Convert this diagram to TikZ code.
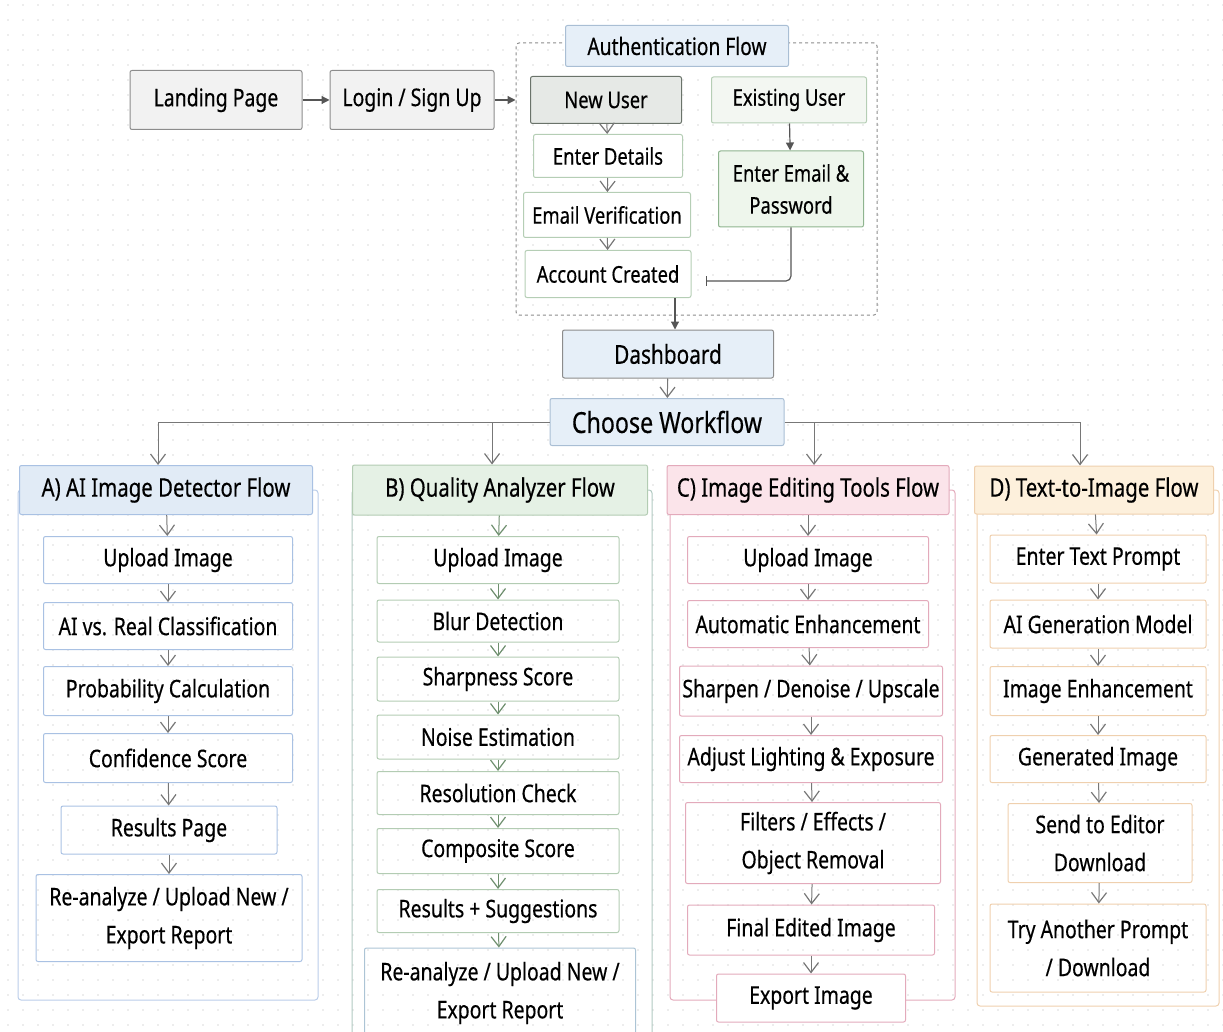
\documentclass[tikz,border=0pt]{standalone}
\usepackage{fontspec}
\setmainfont{Noto Sans}[FakeStretch=0.8,FakeBold=0.4]
\usetikzlibrary{arrows.meta}

\definecolor{dotc}{HTML}{DADADA}
\definecolor{linec}{HTML}{555555}
\definecolor{greyfill}{HTML}{F2F2F2}
\definecolor{greyedge}{HTML}{8C8C8C}
\definecolor{newfill}{HTML}{E6E9E6}
\definecolor{newedge}{HTML}{6A736A}
\definecolor{oldfill}{HTML}{F3F7F2}
\definecolor{authgreen}{HTML}{B5CEB5}
\definecolor{credfill}{HTML}{EEF6EC}
\definecolor{credge}{HTML}{8FB48F}
\definecolor{bluefill}{HTML}{E6EFF8}
\definecolor{blueedge}{HTML}{A9BED4}
\definecolor{aedge}{HTML}{A9C1E3}
\definecolor{afill}{HTML}{E1EBF6}
\definecolor{bedge}{HTML}{B3CCB3}
\definecolor{bfill}{HTML}{E5F1E5}
\definecolor{barrow}{HTML}{6E8F6E}
\definecolor{cedge}{HTML}{E3AABB}
\definecolor{cfill}{HTML}{FBE4EA}
\definecolor{dedge}{HTML}{EFD0AE}
\definecolor{dfill}{HTML}{FDF0DC}

\begin{document}
\begin{tikzpicture}[x=1pt,y=-1pt,
    box/.style={draw, rounded corners=2pt, align=center, inner sep=2pt, line width=1pt,
      font=\fontsize{24.3}{38}\selectfont},
    gbox/.style={box, fill=greyfill, draw=greyedge},
    authbox/.style={box, font=\fontsize{23}{32}\selectfont},
    stepbox/.style={authbox, fill=white, draw=authgreen},
    heads/.style={box, font=\fontsize{25.5}{30}\selectfont},
    cont/.style={draw, rounded corners=3pt, line width=1pt},
    arr/.style={color=linec, line width=1.2pt, -{Triangle[length=8pt,width=8pt]}},
    varr/.style={color=linec!80, line width=1pt, -{Straight Barb[length=10pt,width=15pt,line width=1.2pt]}},
]
\useasboundingbox (0,0) rectangle (1223,1032);
% dotted grid
\foreach \gx in {8,23,...,1223}
  \foreach \gy in {5,20,...,1032}
    \fill[dotc] (\gx,\gy) circle (0.9);

% entry
\node[gbox, minimum width=172, minimum height=59] (landing) at (216,100) {Landing Page};
\node[gbox, minimum width=164, minimum height=59] (login) at (412,100) {Login / Sign Up};

% authentication
\node[draw=greyedge, dashed, line width=1pt, rounded corners=3pt, minimum width=361, minimum height=272] (authframe) at (696.5,179) {};
\node[authbox, fill=bluefill, draw=blueedge, minimum width=223, minimum height=41, font=\fontsize{24}{30}\selectfont] (authtitle) at (677,46) {Authentication Flow};
\node[authbox, fill=newfill, draw=newedge, minimum width=151, minimum height=47] (newuser) at (606,100) {New User};
\node[authbox, fill=oldfill, draw=authgreen, minimum width=155, minimum height=46] (olduser) at (789,100) {Existing User};
\node[stepbox, minimum width=149, minimum height=43] (details) at (608,156) {Enter Details};
\node[stepbox, minimum width=167, minimum height=45] (verify) at (607,215) {Email Verification};
\node[stepbox, minimum width=166, minimum height=47] (created) at (608,274) {Account Created};
\node[authbox, fill=credfill, draw=credge, minimum width=145, minimum height=76] (creds) at (791,189) {Enter Email \&\\Password};
\coordinate (credend) at (706,281);

\node[box, fill=bluefill, draw=greyedge, minimum width=211, minimum height=48, font=\fontsize{26}{30}\selectfont] (dash) at (668,354) {Dashboard};
\node[box, fill=bluefill, draw=blueedge, minimum width=234, minimum height=47, font=\fontsize{29}{30}\selectfont] (choose) at (667,422) {Choose Workflow};

\path[arr] (landing) edge (login);
\path[arr] (login.east) edge (authframe.west |- login.east);
\path[varr] (newuser) edge (details);
\path[varr] (details) edge (verify);
\path[varr] (verify) edge (created);
\path[arr] (olduser) edge (creds);
\draw[draw=linec, line width=1.2pt, rounded corners=5pt, -{Bar[width=10pt]}] (creds.south) |- (credend);
\path[arr] ([xshift=7pt]dash.north |- created.south) edge ([xshift=7pt]dash.north);
\path[varr] (dash) edge (choose);

% A) detector
\node[cont, draw=aedge!80, minimum width=300, minimum height=510] (acont) at (168,745) {};
\node[heads, fill=afill, draw=aedge, minimum width=293, minimum height=49] (ahead) at (166,490) {A) AI Image Detector Flow};
\node[box, draw=aedge, minimum width=249, minimum height=47] (a1) at (168,560) {Upload Image};
\node[box, draw=aedge, minimum width=249, minimum height=47] (a2) at (168,626) {AI vs. Real Classification};
\node[box, draw=aedge, minimum width=249, minimum height=49] (a3) at (168,691) {Probability Calculation};
\node[box, draw=aedge, minimum width=249, minimum height=49] (a4) at (168,758) {Confidence Score};
\node[box, draw=aedge, minimum width=216, minimum height=48] (a5) at (169,830) {Results Page};
\node[box, draw=aedge, minimum width=266, minimum height=87] (a6) at (169,918) {Re-analyze / Upload New /\\Export Report};

% B) quality
\node[cont, draw=bedge!70!aedge, minimum width=300, minimum height=550] (bcont) at (502,765) {};
\node[heads, fill=bfill, draw=bedge, minimum width=295, minimum height=50] (bhead) at (500,490) {B) Quality Analyzer Flow};
\node[box, draw=bedge, minimum width=242, minimum height=47] (b1) at (498,560) {Upload Image};
\node[box, draw=bedge, minimum width=242, minimum height=42] (b2) at (498,621) {Blur Detection};
\node[box, draw=bedge, minimum width=242, minimum height=44] (b3) at (498,679) {Sharpness Score};
\node[box, draw=bedge, minimum width=242, minimum height=44] (b4) at (498,737) {Noise Estimation};
\node[box, draw=bedge, minimum width=242, minimum height=43] (b5) at (498,793) {Resolution Check};
\node[box, draw=bedge, minimum width=242, minimum height=45] (b6) at (498,851) {Composite Score};
\node[box, draw=bedge, minimum width=242, minimum height=43] (b7) at (498,911) {Results + Suggestions};
\node[box, draw=aedge!70!bedge, minimum width=271, minimum height=90] (b8) at (500,993) {Re-analyze / Upload New /\\Export Report};

% C) editing
\node[cont, draw=cedge, minimum width=285, minimum height=510] (ccont) at (812.5,745) {};
\node[heads, fill=cfill, draw=cedge, minimum width=282, minimum height=49] (chead) at (808,490) {C) Image Editing Tools Flow};
\node[box, draw=cedge, minimum width=241, minimum height=47] (c1) at (808,560) {Upload Image};
\node[box, draw=cedge, minimum width=241, minimum height=47] (c2) at (808,624) {Automatic Enhancement};
\node[box, draw=cedge, minimum width=263, minimum height=50] (c3) at (811,691) {Sharpen / Denoise / Upscale};
\node[box, draw=cedge, minimum width=263, minimum height=47] (c4) at (811,759) {Adjust Lighting \& Exposure};
\node[box, draw=cedge, minimum width=255, minimum height=81] (c5) at (813,843) {Filters / Effects /\\Object Removal};
\node[box, draw=cedge, minimum width=247, minimum height=50] (c6) at (811,930) {Final Edited Image};
\node[box, fill=white, draw=cedge, minimum width=189, minimum height=48] (c7) at (811,998) {Export Image};

% D) text to image
\node[cont, draw=dedge, minimum width=242, minimum height=516] (dcont) at (1098,748) {};
\node[heads, fill=dfill, draw=dedge, minimum width=239, minimum height=48] (dhead) at (1094,490) {D) Text-to-Image Flow};
\node[box, draw=dedge, minimum width=216, minimum height=48] (d1) at (1098,559) {Enter Text Prompt};
\node[box, draw=dedge, minimum width=216, minimum height=48] (d2) at (1098,624) {AI Generation Model};
\node[box, draw=dedge, minimum width=216, minimum height=49] (d3) at (1098,691) {Image Enhancement};
\node[box, draw=dedge, minimum width=216, minimum height=47] (d4) at (1098,759) {Generated Image};
\node[box, draw=dedge, minimum width=184, minimum height=79] (d5) at (1100,843) {Send to Editor\\Download};
\node[box, draw=dedge, minimum width=216, minimum height=88] (d6) at (1098,948) {Try Another Prompt\\/ Download};

% branches
\draw[varr] (choose.west) -| ([xshift=-8pt]ahead.north);
\draw[varr] (choose.west -| bhead.north) ++(-8,0) -- ([xshift=-8pt]bhead.north);
\draw[varr] (choose.east -| chead.north) ++(6,0) -- ([xshift=6pt]chead.north);
\draw[varr] (choose.east) -| ([xshift=-14pt]dhead.north);

% column arrows
\path[varr] (ahead) edge (a1) (a1) edge (a2) (a2) edge (a3) (a3) edge (a4) (a4) edge (a5) (a5) edge (a6);
\path[varr, color=barrow] (bhead) edge (b1) (b1) edge (b2) (b2) edge (b3) (b3) edge (b4) (b4) edge (b5) (b5) edge (b6) (b6) edge (b7) (b7) edge (b8);
\path[varr] (chead) edge (c1) (c1) edge (c2) (c2) edge (c3) (c3) edge (c4) (c4) edge (c5) (c5) edge (c6) (c6) edge (c7);
\path[varr] (dhead) edge (d1) (d1) edge (d2) (d2) edge (d3) (d3) edge (d4) (d4) edge (d5) (d5) edge (d6);
\end{tikzpicture}
\end{document}
